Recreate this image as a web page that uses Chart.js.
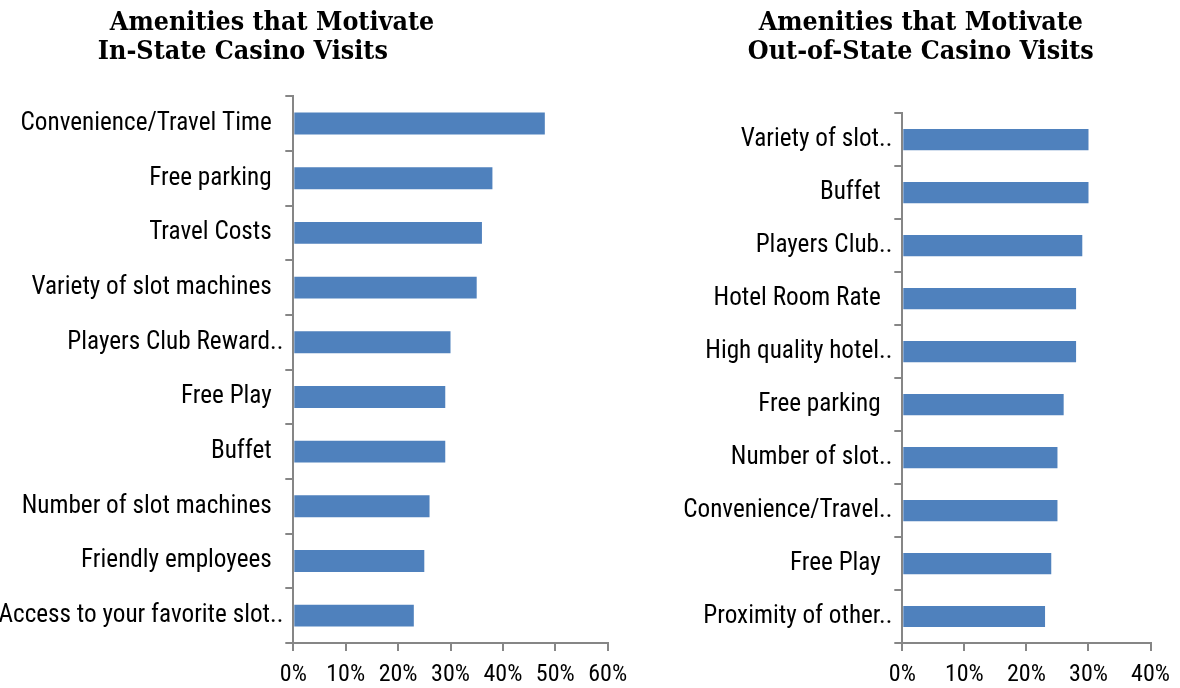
<!DOCTYPE html>
<html>
<head>
<meta charset="utf-8">
<script src="https://cdn.jsdelivr.net/npm/chart.js"></script>
<style>
  body { margin: 0; background: #fff; width: 1180px; height: 688px; overflow: hidden; position: relative; }
  .box { position: absolute; top: 0; height: 688px; }
  #inBox { left: -122px; width: 762px; }
  #outBox { left: 620px; width: 560px; }
</style>
</head>
<body>
<div class="box" id="inBox"><canvas id="inChart"></canvas></div>
<div class="box" id="outBox"><canvas id="outChart"></canvas></div>
<script>
// amenities, top to bottom, share of respondents (%)
const inStateLabels = ['Convenience/Travel Time', 'Free parking', 'Travel Costs', 'Variety of slot machines',
  'Players Club Reward..', 'Free Play', 'Buffet', 'Number of slot machines', 'Friendly employees',
  'Access to your favorite slot..']
const inStateValues = [48, 38, 36, 35, 30, 29, 29, 26, 25, 23]

const outStateLabels = ['Variety of slot..', 'Buffet', 'Players Club..', 'Hotel Room Rate', 'High quality hotel..',
  'Free parking', 'Number of slot..', 'Convenience/Travel..', 'Free Play', 'Proximity of other..']
const outStateValues = [30, 30, 29, 28, 28, 26, 25, 25, 24, 23]

const inStateTitle = ['       Amenities that Motivate', 'In-State Casino Visits']
const outStateTitle = [' Amenities that Motivate', ' Out-of-State Casino Visits']

const inStateMax = 60
const outStateMax = 40

const axisGray = '#868686'
const barBlue = '#4F81BD'

// weight strings carry a font-stretch keyword too (ends up in the canvas font shorthand)
const titleFont = { family: 'DejaVu Serif', weight: 'bold condensed', size: 26.6, lineHeight: 1.1 }
const labelFont = { family: 'Roboto', weight: 'normal semi-condensed', size: 25.2 }
const pctFont = { family: 'Roboto', weight: 'normal semi-condensed', size: 24 }

function makeChart(id, labels, values, title, max, cfg) {
  return new Chart(document.getElementById(id), {
    type: 'bar',
    data: {
      labels: labels,
      datasets: [{
        data: values,
        backgroundColor: barBlue,
        barPercentage: 0.4,
        categoryPercentage: 1
      }]
    },
    options: {
      indexAxis: 'y',
      responsive: true,
      maintainAspectRatio: false,
      animation: false,
      layout: { padding: { left: cfg.padLeft, right: cfg.padRight, top: 0, bottom: 0 } },
      plugins: {
        legend: { display: false },
        tooltip: { enabled: false },
        title: {
          display: true,
          text: title,
          color: '#000',
          font: titleFont,
          padding: { top: 8.5, bottom: cfg.titleBottom }
        }
      },
      scales: {
        y: {
          offset: true,
          grid: { offset: true, drawOnChartArea: false, tickLength: 8, color: axisGray, lineWidth: 2 },
          border: { color: axisGray, width: 2 },
          ticks: {
            autoSkip: false,
            padding: 2,
            color: '#000',
            font: labelFont,
            callback: function (v) {
              const s = this.getLabelForValue(v)
              // cut labels sit closer to the axis
              return s.endsWith('..') ? s : s + '  '
            }
          },
          afterFit: function (s) { s.width = cfg.yWidth }
        },
        x: {
          min: 0,
          max: max,
          grid: { drawOnChartArea: false, tickLength: 8, color: axisGray, lineWidth: 2 },
          border: { color: axisGray, width: 2 },
          ticks: {
            stepSize: 10,
            padding: 10,
            color: '#000',
            font: pctFont,
            callback: function (v) { return v + '%' }
          },
          afterFit: function (s) { s.height = 45 }
        }
      }
    }
  })
}

makeChart('inChart', inStateLabels, inStateValues, inStateTitle, inStateMax,
  { padLeft: 0, padRight: 32.3, yWidth: 415.3, titleBottom: 29.2 })
makeChart('outChart', outStateLabels, outStateValues, outStateTitle, outStateMax,
  { padLeft: 60, padRight: 26.7, yWidth: 222.3, titleBottom: 46.2 })
</script>
</body>
</html>
